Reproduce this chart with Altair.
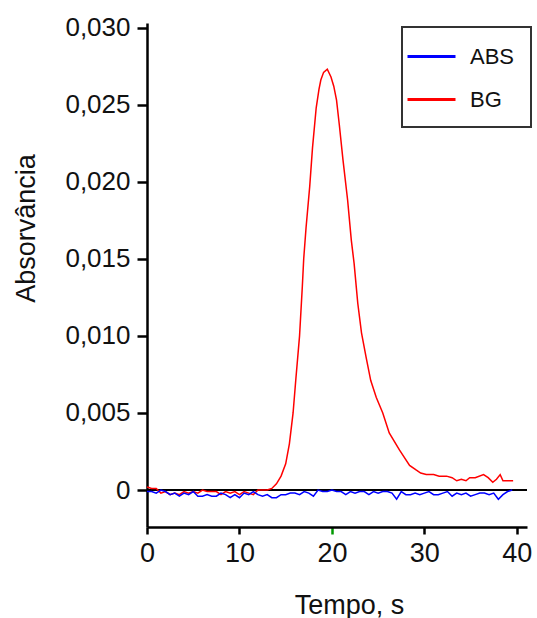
import altair as alt
import pandas as pd

# ---- data ----
abs_t = [i * 0.5 for i in range(80)]
abs_v = [-1, -1, -2, 0, -1, -3, -2, -4, -2, -3, -1, -4, -4, -3, -4, -4, -2, -3, -5, -3,
         -5, -2, -3, -1, -3, -4, -3, -5, -5, -3, -3, -2, -2, -3, -1, -2, -4, 0, -1, -1,
         0, -1, -1, -3, -1, -2, -1, -1, -3, -1, -2, -1, -1, -2, -6, -1, -3, -3, -2, -3,
         -2, -1, -3, -3, -2, -1, -4, -2, -3, -2, -4, -3, -2, -2, -3, -2, -6, -3, -1, 0]

bg_t = [0, 0.5, 1, 1.5, 2, 2.5, 3, 3.5, 4, 4.5, 5, 5.5, 6, 6.5, 7, 7.5, 8, 8.5, 9, 9.5,
        10, 10.5, 11, 11.5, 12, 12.5, 13, 13.5, 14, 14.5, 15, 15.4, 15.8, 16.1, 16.5,
        16.8, 16.95, 17.2, 17.6, 17.9, 18.3, 18.6, 18.8, 19.1, 19.5, 19.9, 20.2, 20.5,
        20.8, 21.2, 21.7, 22.1, 22.4, 22.8, 23.2, 23.7, 24.2, 24.8, 25.5, 26.2, 27.3,
        28.4, 29.1, 29.6, 30.2, 31, 31.6, 32.4, 33, 33.5, 34, 34.5, 34.9, 35.5, 36.4,
        36.9, 37.4, 37.8, 38.2, 38.5, 39, 39.6]
bg_v = [2, 1, 1, -2, -1, -3, -2, -3, -1, -2, -1, -2, 0, -1, -1, -1, -3, -1, -2, -1,
        -3, -1, -2, -3, 0, 0, 0, 1, 4, 9, 17, 30, 50, 72, 100,
        132, 150, 170, 197, 222, 248, 260, 266, 271, 273, 268, 262, 253,
        237, 214, 188, 162, 147, 121, 102, 86, 71, 60, 50, 37, 26,
        16, 13, 11, 10, 10, 9, 9, 8, 6, 7, 6, 8, 8, 10,
        8, 5, 7, 10, 6, 6, 6]

series_names = ["ABS", "BG"]
series_colors = ["#0000ff", "#ff0000"]
y_ticks = [0, 0.005, 0.010, 0.015, 0.020, 0.025, 0.030]
x_ticks = [0, 10, 20, 30, 40]

rows = []
for t, v in zip(bg_t, bg_v):
    rows.append({"t": t, "v": v * 1e-4, "s": "BG", "o": 1})
for t, v in zip(abs_t, abs_v):
    rows.append({"t": t, "v": v * 1e-4, "s": "ABS", "o": 2})
df = pd.DataFrame(rows)

FONT = "Liberation Sans"
TXT = "#111111"

x_scale = alt.Scale(domain=[0, 41.1], nice=False, zero=False)
y_scale = alt.Scale(domain=[-0.0024, 0.0303], nice=False, zero=False)

zero_rule = alt.Chart(pd.DataFrame({"z": [0]})).mark_rule(
    color="black", strokeWidth=2
).encode(y=alt.Y("z:Q", scale=y_scale))

lines = alt.Chart(df).mark_line(strokeWidth=1.5).encode(
    x=alt.X("t:Q", scale=x_scale,
            axis=alt.Axis(values=x_ticks, title="Tempo, s", grid=False,
                          domainColor="black", domainWidth=2.5,
                          tickColor={"condition": {"test": "datum.value == 20", "value": "#009900"},
                                     "value": "black"},
                          tickWidth=2.5, tickSize=7,
                          labelFont=FONT, labelFontSize=27, labelColor=TXT, labelPadding=6,
                          labelFlush=False,
                          titleFont=FONT, titleFontSize=27, titleFontWeight="normal",
                          titleColor=TXT, titleX=202, titleY=86,
                          titleBaseline="alphabetic")),
    y=alt.Y("v:Q", scale=y_scale,
            axis=alt.Axis(values=y_ticks, title="Absorvância", grid=False,
                          labelExpr="datum.value == 0 ? '0' : replace(format(datum.value, '.3f'), '.', ',')",
                          domainColor="black", domainWidth=2.5,
                          tickColor="black", tickWidth=2.5, tickSize=10,
                          labelFont=FONT, labelFontSize=26, labelColor=TXT, labelPadding=7,
                          labelFlush=False,
                          titleFont=FONT, titleFontSize=27, titleFontWeight="normal",
                          titleColor=TXT, titleX=-113, titleY=205,
                          titleBaseline="alphabetic")),
    color=alt.Color("s:N", scale=alt.Scale(domain=series_names, range=series_colors),
                    legend=alt.Legend(title=None, orient="none", legendX=255, legendY=4,
                                      symbolType="M-2,0H2", symbolSize=576,
                                      symbolStrokeWidth=3, labelFont=FONT,
                                      labelFontSize=22, labelColor=TXT, labelOffset=25,
                                      padding=16, rowPadding=18,
                                      strokeColor="#333333", fillColor="white")),
    order=alt.Order("o:Q"),
    detail="s:N",
)

chart = alt.layer(zero_rule, lines).properties(
    width=380, height=504,
    autosize=alt.AutoSizeParams(type="none"),
    padding={"left": 147, "top": 23, "right": 10, "bottom": 91},
    background="white",
).configure_view(stroke=None).configure_legend(strokeWidth=2)

chart.save("out.html", embed_options={"renderer": "svg", "actions": False})
